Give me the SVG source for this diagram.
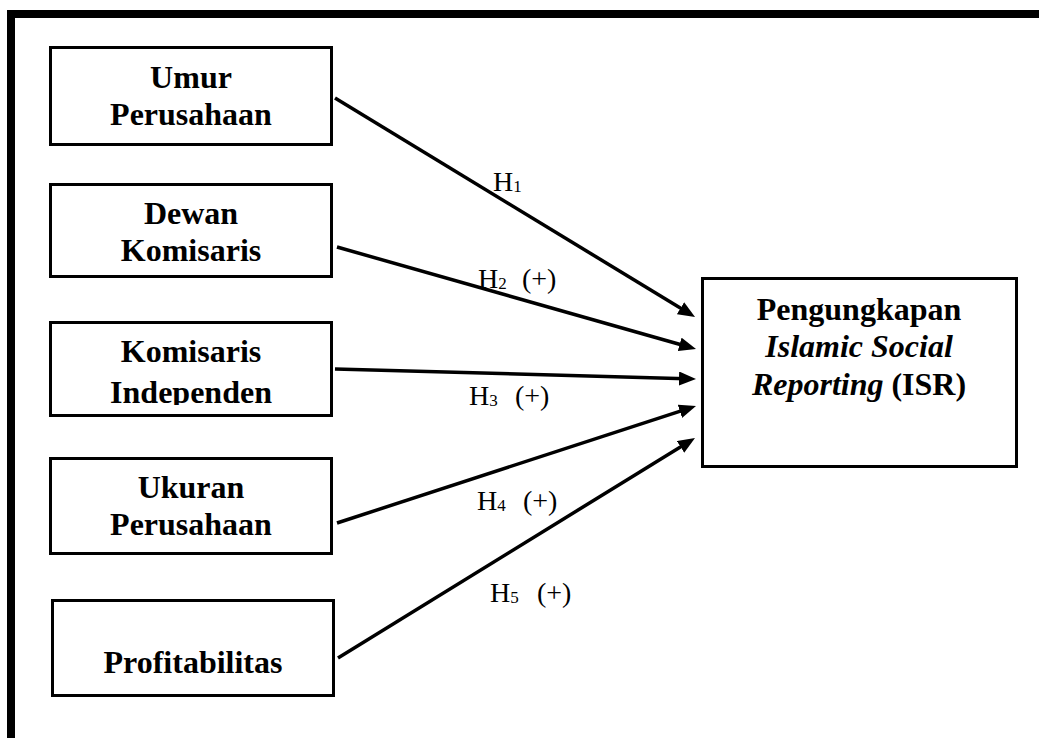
<svg xmlns="http://www.w3.org/2000/svg" width="1039" height="738" viewBox="0 0 1039 738">
<style>
.box{fill:#fff;stroke:#000;stroke-width:3}
.t{font-family:"Liberation Serif","Times New Roman",serif;font-weight:bold;font-size:32px;text-anchor:middle;fill:#000}
.it{font-style:italic}
.lbl{font-family:"Liberation Serif","Times New Roman",serif;font-size:28px;fill:#000}
.sub{font-size:17px}
.conn{stroke:#000;stroke-width:3.5;fill:none;marker-end:url(#ah)}
</style>
<defs>
<marker id="ah" markerUnits="userSpaceOnUse" markerWidth="17" markerHeight="14" refX="7" refY="7" orient="auto" viewBox="0 0 17 14">
<path d="M0,0 L17,7 L0,14 z" fill="#000"/>
</marker>
<clipPath id="c3"><rect x="49" y="320" width="284" height="85"/></clipPath>
</defs>
<rect width="1039" height="738" fill="#fff"/>
<g id="frame">
<rect x="7" y="10" width="1032" height="8" fill="#000"/>
<rect x="7" y="10" width="8" height="728" fill="#000"/>
</g>
<g id="connectors">
<line class="conn" x1="335" y1="98" x2="686.5" y2="311.8"/>
<line class="conn" x1="337" y1="247" x2="686.4" y2="346.3"/>
<line class="conn" x1="335" y1="369" x2="686" y2="378.7"/>
<line class="conn" x1="337" y1="523" x2="686.5" y2="409.1"/>
<line class="conn" x1="338" y1="658" x2="686.5" y2="443.2"/>
<text class="lbl" x="493" y="191">H<tspan class="sub" dy="1">1</tspan></text>
<text class="lbl" x="478" y="288">H<tspan class="sub" dy="1">2</tspan></text>
<text class="lbl" x="522" y="288">(+)</text>
<text class="lbl" x="469" y="405">H<tspan class="sub" dy="1">3</tspan></text>
<text class="lbl" x="515" y="405">(+)</text>
<text class="lbl" x="477" y="510">H<tspan class="sub" dy="1">4</tspan></text>
<text class="lbl" x="523" y="510">(+)</text>
<text class="lbl" x="490" y="602">H<tspan class="sub" dy="1">5</tspan></text>
<text class="lbl" x="537" y="602">(+)</text>
</g>
<g id="umur">
<rect class="box" x="50.5" y="47.5" width="281" height="97"/>
<text class="t" x="191" y="88">Umur</text>
<text class="t" x="191" y="125">Perusahaan</text>
</g>
<g id="dewan">
<rect class="box" x="50.5" y="184.5" width="281" height="92"/>
<text class="t" x="191" y="224">Dewan</text>
<text class="t" x="191" y="261">Komisaris</text>
</g>
<g id="komisaris">
<rect class="box" x="50.5" y="322.5" width="281" height="93"/>
<g clip-path="url(#c3)">
<text class="t" x="191" y="362">Komisaris</text>
<text class="t" x="191" y="403">Independen</text>
</g>
</g>
<g id="ukuran">
<rect class="box" x="50.5" y="458.5" width="281" height="95"/>
<text class="t" x="191" y="498">Ukuran</text>
<text class="t" x="191" y="535">Perusahaan</text>
</g>
<g id="profit">
<rect class="box" x="52.5" y="600.5" width="281" height="95"/>
<text class="t" x="193" y="673">Profitabilitas</text>
</g>
<g id="isr">
<rect class="box" x="702.5" y="278.5" width="314" height="188"/>
<text class="t" x="859" y="320">Pengungkapan</text>
<text class="t it" x="859" y="357">Islamic Social</text>
<text class="t" x="859" y="395"><tspan class="it">Reporting</tspan> (ISR)</text>
</g>
</svg>
